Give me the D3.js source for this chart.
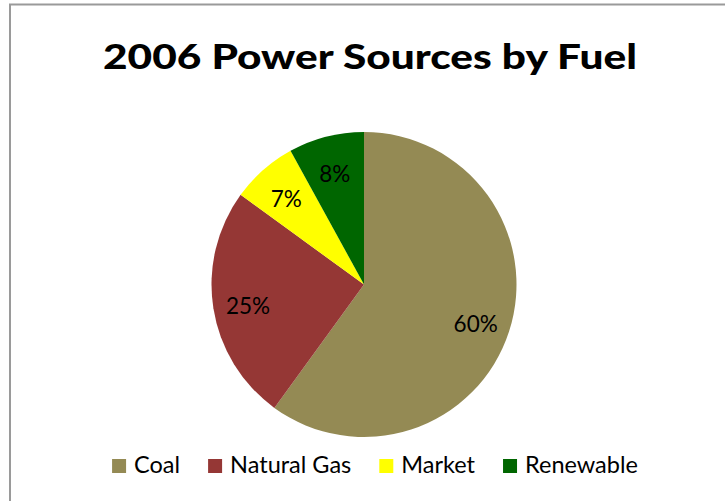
<!DOCTYPE html>
<html><head><meta charset="utf-8">
<script src="https://cdn.jsdelivr.net/npm/d3@7"></script>
<style>html,body{margin:0;padding:0;background:#fff;}svg{display:block;}</style>
</head><body>
<svg id="c" width="725" height="501"></svg>
<script>
const title = "2006 Power Sources by Fuel";
const categories = ["Coal", "Natural Gas", "Market", "Renewable"];
const values = [60, 25, 7, 8];
const colors = ["#948A54", "#953735", "#FFFF00", "#006600"];

const FONT = "Lato, 'Open Sans', sans-serif";
const svg = d3.select("#c");
svg.append("rect").attr("x", 0).attr("y", 0).attr("width", 725).attr("height", 501).attr("fill", "#fff");
// chart border (extends past right/bottom edges)
svg.append("rect").attr("x", 10).attr("y", 4.5).attr("width", 740).attr("height", 520)
  .attr("fill", "none").attr("stroke", "#9a9a9a").attr("stroke-width", 2);

svg.append("text").attr("x", 370).attr("y", 68.5).attr("text-anchor", "middle")
  .attr("font-family", FONT).attr("font-weight", "900").attr("font-size", 34)
  .attr("textLength", 534).attr("lengthAdjust", "spacingAndGlyphs")
  .attr("fill", "#000").text(title);

const cx = 364, cy = 284.5, r = 152.5;
const pie = d3.pie().sort(null).value(d => d)(values);
const arc = d3.arc().innerRadius(0).outerRadius(r);
const labelArc = d3.arc().innerRadius(r * 0.77).outerRadius(r * 0.77);
const g = svg.append("g").attr("transform", `translate(${cx},${cy})`);
g.selectAll("path").data(pie).join("path")
  .attr("d", arc).attr("fill", (d, i) => colors[i]);
const total = d3.sum(values);
g.selectAll("text").data(pie).join("text")
  .attr("transform", d => { const c = labelArc.centroid(d); return `translate(${c[0]},${c[1] + 3})`; })
  .attr("text-anchor", "middle").attr("dy", "0.35em")
  .attr("font-family", FONT).attr("font-size", 22.5).attr("fill", "#000")
  .text(d => Math.round(d.data / total * 100) + "%");

// legend
const lg = svg.append("g");
const items = lg.selectAll("g").data(categories).join("g");
items.append("rect").attr("width", 14).attr("height", 14).attr("y", -13.5).attr("fill", (d, i) => colors[i]);
items.append("text").attr("x", 22).attr("font-family", FONT).attr("font-size", 23.5).attr("fill", "#000").text(d => d);
let x = 0;
items.each(function () {
  const w = d3.select(this).select("text").node().getComputedTextLength();
  d3.select(this).attr("transform", `translate(${x},0)`);
  x += 22 + w + 28;
});
const totalW = x - 28;
lg.attr("transform", `translate(${375 - totalW / 2},472.5)`);
</script>
</body></html>
